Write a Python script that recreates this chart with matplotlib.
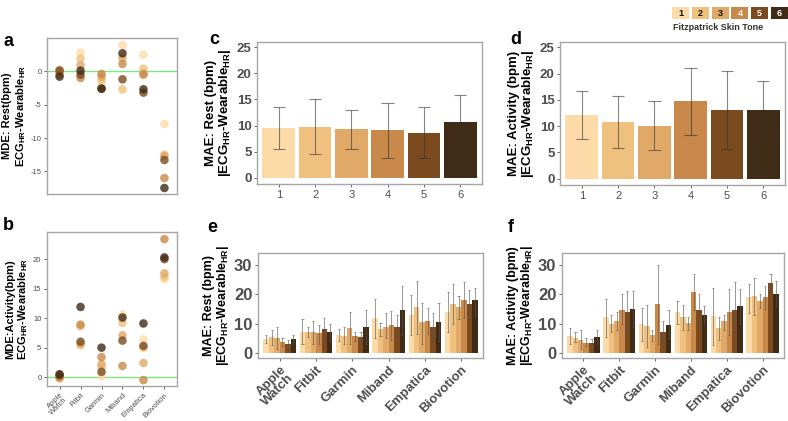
import numpy as np
import matplotlib
matplotlib.use("Agg")
import matplotlib.pyplot as plt

plt.rcParams['font.family'] = ['Liberation Sans', 'DejaVu Sans']
plt.rcParams['mathtext.fontset'] = 'custom'
plt.rcParams['mathtext.rm'] = 'Liberation Sans:bold'
plt.rcParams['mathtext.it'] = 'Liberation Sans:bold'
plt.rcParams['mathtext.bf'] = 'Liberation Sans:bold'

# Daten
devices = ["Apple\nWatch", "Fitbit", "Garmin", "Miband", "Empatica", "Biovotion"]
tones = ["1", "2", "3", "4", "5", "6"]
tone_colors = ['#FDDBA9', '#F0C07F', '#E0A968', '#C8894A', '#7B4B1F', '#3F2B16']

# a: MDE Rest, linhas = dispositivo, colunas = tom de pele 1..6
mde_rest = [
    [0.0, -0.3, 0.2, -0.5, 0.1, -0.8],
    [2.8, 1.9, 0.9, -1.0, -0.5, 0.1],
    [-1.8, -1.3, -0.8, -0.4, -2.6, -2.6],
    [3.9, -2.7, 2.0, 1.1, -1.2, 2.7],
    [2.5, 0.4, -0.3, -0.5, -3.2, -2.7],
    [-7.9, -12.5, -12.7, -16.0, -13.3, -17.5],
]
# b: MDE Activity
mde_act = [
    [-0.3, 0.0, 0.2, -0.1, 0.3, 0.5],
    [5.3, 8.6, 5.6, 8.9, 6.0, 11.9],
    [0.2, 1.7, 2.2, 3.4, 0.9, 5.0],
    [10.6, 9.2, 7.1, 1.9, 6.2, 10.1],
    [6.4, 5.0, 2.4, -0.5, 5.3, 9.1],
    [16.6, 17.0, 17.6, 23.4, 20.0, 20.3],
]

# c: MAE Rest por tom
mae_rest = [9.5, 9.8, 9.3, 9.1, 8.6, 10.7]
mae_rest_lo = [5.6, 4.5, 5.6, 3.7, 3.7, 5.6]
mae_rest_hi = [13.5, 15.0, 12.9, 14.4, 13.5, 15.8]

# d: MAE Activity por tom
mae_act = [12.1, 10.7, 10.0, 14.8, 13.0, 13.1]
mae_act_lo = [7.6, 5.8, 5.4, 8.4, 5.6, 7.7]
mae_act_hi = [16.7, 15.7, 14.8, 21.1, 20.4, 18.6]

# e: MAE Rest por dispositivo e tom
dev_rest = [
    [4.8, 5.5, 5.1, 3.6, 3.0, 4.7],
    [7.0, 7.2, 7.0, 6.8, 8.2, 7.1],
    [6.3, 5.8, 8.5, 5.7, 5.5, 9.0],
    [11.9, 8.1, 8.9, 9.6, 8.9, 14.7],
    [12.9, 15.7, 10.5, 10.9, 8.9, 10.5],
    [13.9, 16.7, 15.7, 18.2, 16.8, 18.0],
]
dev_rest_lo = [
    [3.3, 2.8, 1.5, 2.5, 2.0, 3.2],
    [3.0, 5.5, 3.0, 3.0, 4.0, 4.0],
    [4.0, 3.0, 3.0, 4.2, 3.8, 3.2],
    [5.0, 5.7, 5.0, 4.5, 4.5, 6.0],
    [6.0, 6.5, 3.0, 6.5, 4.0, 4.0],
    [7.0, 10.0, 11.5, 12.0, 12.0, 12.5],
]
dev_rest_hi = [
    [6.0, 7.8, 8.7, 5.0, 4.3, 6.2],
    [11.5, 8.8, 11.0, 9.5, 12.0, 10.0],
    [8.2, 8.8, 14.0, 7.2, 7.2, 14.8],
    [18.4, 10.4, 13.5, 14.4, 13.0, 23.0],
    [19.8, 24.6, 17.0, 15.3, 13.7, 17.0],
    [20.8, 23.5, 19.5, 24.3, 21.5, 22.0],
]

# f: MAE Activity por dispositivo e tom
dev_act = [
    [5.8, 5.2, 4.5, 3.4, 3.4, 5.3],
    [12.2, 9.8, 10.9, 14.8, 14.0, 15.1],
    [9.8, 9.2, 6.1, 16.8, 7.1, 9.7],
    [13.9, 12.2, 10.3, 20.7, 14.5, 12.9],
    [12.5, 8.5, 10.8, 14.0, 14.7, 15.9],
    [19.0, 19.4, 17.7, 19.0, 24.0, 20.2],
]
dev_act_lo = [
    [3.0, 3.8, 1.5, 2.5, 2.5, 3.0],
    [5.5, 7.0, 8.0, 10.0, 7.0, 9.0],
    [4.0, 2.0, 4.0, 3.0, 3.0, 5.0],
    [10.0, 8.0, 8.0, 14.5, 9.0, 10.0],
    [2.8, 4.5, 8.0, 6.0, 5.0, 10.0],
    [13.5, 13.0, 15.5, 15.0, 21.0, 16.0],
]
dev_act_hi = [
    [8.5, 7.0, 8.0, 5.0, 4.8, 8.0],
    [18.5, 12.8, 14.0, 20.0, 21.0, 21.2],
    [15.5, 16.5, 8.0, 30.0, 11.0, 14.5],
    [17.8, 16.5, 12.3, 27.0, 20.0, 16.0],
    [22.0, 12.3, 13.0, 21.8, 24.3, 21.8],
    [23.5, 25.5, 20.0, 23.0, 26.8, 24.5],
]

W, H = 788, 421
GRAY = '#4D4D4D'
SPINE = '#A6A6A6'


def rect(x0, y0, x1, y1):
    return [x0 / W, 1 - y1 / H, (x1 - x0) / W, (y1 - y0) / H]


def estilo(ax):
    for s in ax.spines.values():
        s.set_color(SPINE)
        s.set_linewidth(1.0)
    ax.tick_params(colors=GRAY, length=2.5, width=0.6, pad=1.5)


fig = plt.figure(figsize=(W / 100, H / 100), dpi=100)
x = np.arange(1, 7)

# ---- a e b: pontos
for pos, dados, ylim, ticks, lab, letra, ly in [
        ((47, 38, 177, 194), mde_rest, (-18.4, 5), [-15, -10, -5, 0],
         "MDE: Rest(bpm)\nECG$_{HR}$-Wearable$_{HR}$", "a", 42),
        ((47, 232, 177, 386), mde_act, (-1.5, 24.6), [0, 5, 10, 15, 20],
         "MDE:Activity(bpm)\nECG$_{HR}$-Wearable$_{HR}$", "b", 226)]:
    ax = fig.add_axes(rect(*pos))
    ax.axhline(0, color='#7FE57F', lw=1, zorder=1)
    arr = np.array(dados)
    for t in range(6):
        ax.scatter(x, arr[:, t], s=38, color=tone_colors[t], alpha=0.8,
                   edgecolors='none', zorder=2 + t)
    ax.set_xlim(0.4, 6.6)
    ax.set_ylim(*ylim)
    ax.set_yticks(ticks)
    ax.set_yticklabels([str(v) for v in ticks], fontsize=5.5, color=GRAY)
    ax.set_ylabel(lab, fontsize=8, fontweight='bold', labelpad=2, linespacing=1.15)
    estilo(ax)
    if letra == "a":
        ax.set_xticks([])
    else:
        ax.set_xticks(x)
        ax.set_xticklabels(devices, rotation=45, ha='right', rotation_mode='anchor',
                           fontsize=5.5, color=GRAY, linespacing=0.9)
    fig.text(3 / W, 1 - ly / H, letra, fontsize=13, fontweight='bold', va='center')

# ---- c e d: barras por tom
for pos, vals, lo, hi, lab, letra, lx in [
        ((257, 42, 482, 184), mae_rest, mae_rest_lo, mae_rest_hi,
         "MAE: Rest (bpm)\n|ECG$_{HR}$-Wearable$_{HR}$|", "c", 209),
        ((560, 42, 785, 185), mae_act, mae_act_lo, mae_act_hi,
         "MAE: Activity (bpm)\n|ECG$_{HR}$-Wearable$_{HR}$|", "d", 510)]:
    ax = fig.add_axes(rect(*pos))
    ax.bar(x, vals, width=0.9, color=tone_colors, zorder=2)
    ax.vlines(x, lo, hi, color='#333333', alpha=0.6, lw=0.8, zorder=3)
    ax.hlines(lo, x - 0.17, x + 0.17, color='#333333', alpha=0.6, lw=0.8, zorder=3)
    ax.hlines(hi, x - 0.17, x + 0.17, color='#333333', alpha=0.6, lw=0.8, zorder=3)
    ax.set_xlim(0.4, 6.6)
    ax.set_ylim(-1.2, 26)
    ax.set_yticks([0, 5, 10, 15, 20, 25])
    ax.set_yticklabels(['0', '5', '10', '15', '20', '25'], fontsize=9.5,
                       fontweight='bold', color=GRAY)
    ax.set_xticks(x)
    ax.set_xticklabels(tones, fontsize=8, color=GRAY)
    ax.set_ylabel(lab, fontsize=9.5, fontweight='bold', labelpad=3, linespacing=1.0)
    estilo(ax)
    fig.text(lx / W, 1 - 40 / H, letra, fontsize=13, fontweight='bold', va='center')

# ---- e e f: barras agrupadas
for pos, vals, lo, hi, lab, letra, lx in [
        ((258, 253, 483, 358), dev_rest, dev_rest_lo, dev_rest_hi,
         "MAE: Rest (bpm)\n|ECG$_{HR}$-Wearable$_{HR}$|", "e", 207),
        ((562, 253, 784, 358), dev_act, dev_act_lo, dev_act_hi,
         "MAE: Activity (bpm)\n|ECG$_{HR}$-Wearable$_{HR}$|", "f", 508)]:
    ax = fig.add_axes(rect(*pos))
    v = np.array(vals)
    l = np.array(lo)
    h = np.array(hi)
    for t in range(6):
        xs = x + (t - 2.5) * 0.15
        ax.bar(xs, v[:, t], width=0.15, color=tone_colors[t], zorder=2)
        ax.vlines(xs, l[:, t], h[:, t], color='#555555', alpha=0.7, lw=0.6, zorder=3)
        ax.hlines(l[:, t], xs - 0.03, xs + 0.03, color='#555555', alpha=0.7, lw=0.6, zorder=3)
        ax.hlines(h[:, t], xs - 0.03, xs + 0.03, color='#555555', alpha=0.7, lw=0.6, zorder=3)
    ax.set_xlim(0.4, 6.6)
    ax.set_ylim(-1.7, 34.1)
    ax.set_yticks([0, 10, 20, 30])
    ax.set_yticklabels(['0', '10', '20', '30'], fontsize=12, fontweight='bold', color=GRAY)
    ax.set_xticks(x)
    ax.set_xticklabels(devices, rotation=45, ha='right', rotation_mode='anchor',
                       fontsize=9.5, fontweight='bold', color=GRAY, linespacing=0.9)
    ax.set_ylabel(lab, fontsize=9, fontweight='bold', labelpad=2, linespacing=1.0)
    estilo(ax)
    fig.text(lx / W, 1 - 227 / H, letra, fontsize=13, fontweight='bold', va='center')

# ---- legenda
lg = fig.add_axes(rect(672, 7, 788, 19))
lg.bar(x, [1] * 6, width=0.86, color=tone_colors)
for i, t in enumerate(tones):
    lg.text(x[i], 0.5, t, ha='center', va='center', fontsize=6.5, fontweight='bold',
            color='#111111' if i < 3 else 'white')
lg.set_xlim(0.55, 6.45)
lg.set_ylim(0, 1)
lg.axis('off')
fig.text(718 / W, 1 - 27 / H, "Fitzpatrick Skin Tone", ha='center', va='center',
         fontsize=6.5, fontweight='bold', color='#333333')

fig.savefig("out.png", dpi=100)
